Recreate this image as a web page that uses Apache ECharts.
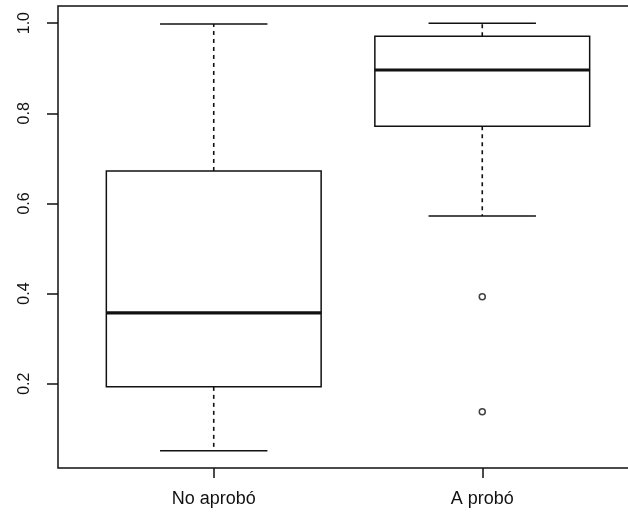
<!DOCTYPE html>
<html>
<head>
<meta charset="utf-8">
<script src="https://cdn.jsdelivr.net/npm/echarts@6/dist/echarts.min.js"></script>
<style>
  html, body { margin: 0; padding: 0; background: #fff; }
  #chart { width: 628px; height: 513px; }
</style>
</head>
<body>
<div id="chart"></div>
<script>
// box summaries
const categories = ['No aprobó', 'A probó']
const whiskerLow = [0.051, 0.572]
const q1 = [0.193, 0.771]
const median = [0.357, 0.896]
const q3 = [0.672, 0.971]
const whiskerHigh = [0.998, 1.0]
const outliers = [[2, 0.393], [2, 0.138]]
const yTicks = [0.2, 0.4, 0.6, 0.8, 1.0]
const xTicks = [1, 2]

const ink = '#111'
const font = 'Liberation Sans, Arial, sans-serif'

const chart = echarts.init(document.getElementById('chart'))

function renderBox(params, api) {
  const i = params.dataIndex
  const x = api.value(0)
  const half = 0.4
  const cap = 0.2
  const p = (xx, yy) => api.coord([xx, yy])
  const boxTL = p(x - half, q3[i])
  const boxBR = p(x + half, q1[i])
  const line = (a, b, w, dash) => ({
    type: 'line',
    shape: { x1: a[0], y1: a[1], x2: b[0], y2: b[1] },
    style: { stroke: ink, lineWidth: w, lineDash: dash || null }
  })
  return {
    type: 'group',
    children: [
      line(p(x, q3[i]), p(x, whiskerHigh[i]), 1.6, [4, 4]),
      line(p(x, q1[i]), p(x, whiskerLow[i]), 1.6, [4, 4]),
      line(p(x - cap, whiskerHigh[i]), p(x + cap, whiskerHigh[i]), 1.5),
      line(p(x - cap, whiskerLow[i]), p(x + cap, whiskerLow[i]), 1.5),
      {
        type: 'rect',
        shape: { x: boxTL[0], y: boxTL[1], width: boxBR[0] - boxTL[0], height: boxBR[1] - boxTL[1] },
        style: { fill: '#fff', stroke: ink, lineWidth: 1.5 }
      },
      line(p(x - half, median[i]), p(x + half, median[i]), 3.2)
    ]
  }
}

chart.setOption({
  animation: false,
  backgroundColor: '#fff',
  grid: {
    left: 58,
    top: 6,
    right: -10,
    bottom: 45,
    outerBoundsMode: 'none',
    containLabel: false,
    show: true,
    borderColor: ink,
    borderWidth: 1.5,
    backgroundColor: 'transparent'
  },
  xAxis: {
    type: 'value',
    min: 0.42,
    max: 2.58,
    splitLine: { show: false },
    axisLine: { show: false },
    axisTick: { show: true, length: 10, customValues: xTicks, lineStyle: { color: ink, width: 1.5 } },
    axisLabel: {
      customValues: xTicks,
      margin: 22,
      color: ink,
      fontFamily: font,
      fontSize: 18,
      formatter: v => categories[Math.round(v) - 1]
    }
  },
  yAxis: {
    type: 'value',
    min: 0.013,
    max: 1.038,
    splitLine: { show: false },
    axisLine: { show: false },
    axisTick: { show: true, length: 11, customValues: yTicks, lineStyle: { color: ink, width: 1.5 } },
    axisLabel: {
      customValues: yTicks,
      rotate: 90,
      margin: 25,
      color: ink,
      fontFamily: font,
      fontSize: 16,
      formatter: v => v.toFixed(1)
    }
  },
  series: [
    {
      type: 'custom',
      renderItem: renderBox,
      data: xTicks.map(x => [x, median[x - 1]]),
      z: 2
    },
    {
      type: 'scatter',
      data: outliers,
      symbol: 'circle',
      symbolSize: 6,
      itemStyle: { color: '#fff', borderColor: ink, borderWidth: 1.5 },
      z: 3
    }
  ]
})
</script>
</body>
</html>
